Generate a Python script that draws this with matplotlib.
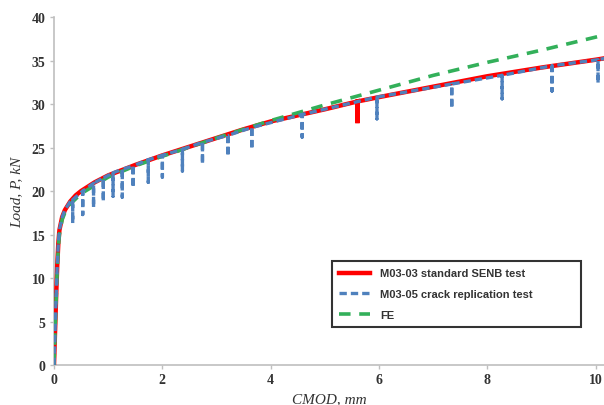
import numpy as np
import matplotlib
matplotlib.use("Agg")
import matplotlib.pyplot as plt

# M03-03 standard SENB test (load vs CMOD), with the single pop-in near 5.6 mm
std_cmod = [0, 0.02, 0.04, 0.06, 0.08, 0.1, 0.15, 0.2, 0.3, 0.4, 0.5, 0.75,
            1.0, 1.5, 2.0, 2.5, 3.0, 3.5, 4.0, 4.5, 5.0, 5.6, 5.6, 5.6,
            6.0, 7.0, 8.0, 9.0, 10.0, 10.2]
std_load = [0, 4, 8, 11.5, 14, 15.5, 17, 17.8, 18.8, 19.5, 20.0, 21.0,
            21.8, 23.0, 24.1, 25.1, 26.1, 27.1, 28.0, 28.7, 29.4, 30.3, 27.8, 30.3,
            30.8, 32.0, 33.2, 34.2, 35.1, 35.3]

# M03-05 crack replication test: loading curve plus unloading steps
rep_cmod = [0, 0.02, 0.04, 0.06, 0.08, 0.1, 0.15, 0.2, 0.3]
rep_load = [0, 4, 8, 11.5, 14, 15.5, 17, 17.8, 18.8]
unload_cmod = [0.345, 0.53, 0.73, 0.91, 1.09, 1.26, 1.46, 1.74, 2.0, 2.37,
               2.74, 3.21, 3.65, 4.58, 5.96, 7.34, 8.27, 9.19, 10.04]
unload_peak = [19.0, 20.0, 20.9, 21.5, 22.1, 22.5, 22.9, 23.6, 24.1, 24.8,
               25.6, 26.4, 27.3, 28.8, 30.8, 32.3, 33.3, 34.4, 35.1]
unload_min = [16.3, 17.3, 18.1, 18.8, 19.4, 19.3, 20.4, 21.0, 21.6, 22.3,
              23.1, 24.0, 24.8, 26.2, 28.3, 29.5, 30.6, 31.5, 32.4]
rep_end_cmod = [10.2]
rep_end_load = [35.3]

# FE prediction
fe_cmod = [0, 0.02, 0.04, 0.06, 0.08, 0.1, 0.15, 0.2, 0.3, 0.5, 1.0, 1.5,
           2.0, 3.0, 4.0, 5.0, 6.0, 7.0, 8.0, 9.0, 10.0, 10.2]
fe_load = [0, 4, 7.5, 11, 13.5, 15, 16.7, 17.5, 18.5, 19.7, 21.6, 22.9,
           24.0, 26.1, 28.1, 29.9, 31.6, 33.3, 34.8, 36.2, 37.7, 38.0]

# build the replication path: peak -> unload -> reload at each step
rx = list(rep_cmod)
ry = list(rep_load)
for c, p, m in zip(unload_cmod, unload_peak, unload_min):
    rx += [c, c, c]
    ry += [p, m, p]
rx += rep_end_cmod
ry += rep_end_load

fig = plt.figure(figsize=(6.04, 4.06), dpi=100)
ax = fig.add_axes([0.0894, 0.0985, 0.9106, 0.857])

ax.plot(std_cmod, std_load, color="#FF0000", lw=3.2, solid_joinstyle="miter",
        label="M03-03 standard SENB test", zorder=3)
ax.plot(rx, ry, color="#4F81BD", lw=2.4, dashes=(2.2, 1.2),
        label="M03-05 crack replication test", zorder=5)
ax.plot(fe_cmod, fe_load, color="#33B05A", lw=2.6, dashes=(3.2, 2.4),
        label="FE", zorder=4)

ax.set_xlim(0, 10.15)
ax.set_ylim(0, 40)
ax.set_xticks([0, 2, 4, 6, 8, 10])
ax.set_yticks(np.arange(0, 41, 5))

for s in ["top", "right"]:
    ax.spines[s].set_visible(False)
for s in ["left", "bottom"]:
    ax.spines[s].set_color("#BFBFBF")
    ax.spines[s].set_linewidth(1.2)
ax.tick_params(axis="both", color="#BFBFBF", length=3, width=1,
               labelsize=10, labelcolor="#333333", pad=3)
for lab in ax.get_xticklabels() + ax.get_yticklabels():
    lab.set_fontfamily("Liberation Serif")
    lab.set_fontweight("bold")

ax.set_xlabel("CMOD, mm", fontfamily="Liberation Serif", fontstyle="italic",
              fontsize=11, color="#333333", labelpad=4)
ax.set_ylabel("Load, P, kN", fontfamily="Liberation Serif", fontstyle="italic",
              fontsize=11, color="#333333", labelpad=6)

leg = ax.legend(loc="upper left", bbox_to_anchor=(0.4945, 0.113, 0.4745, 0.203),
                mode="expand", frameon=True, fancybox=False, handlelength=2.8,
                handletextpad=0.9, borderpad=0.7, labelspacing=0.95,
                prop={"family": "Liberation Sans", "size": 8, "weight": "bold"})
leg.get_frame().set_edgecolor("#000000")
leg.get_frame().set_linewidth(1.5)
for t in leg.get_texts():
    t.set_color("#333333")

fig.savefig("out.png", dpi=100)
